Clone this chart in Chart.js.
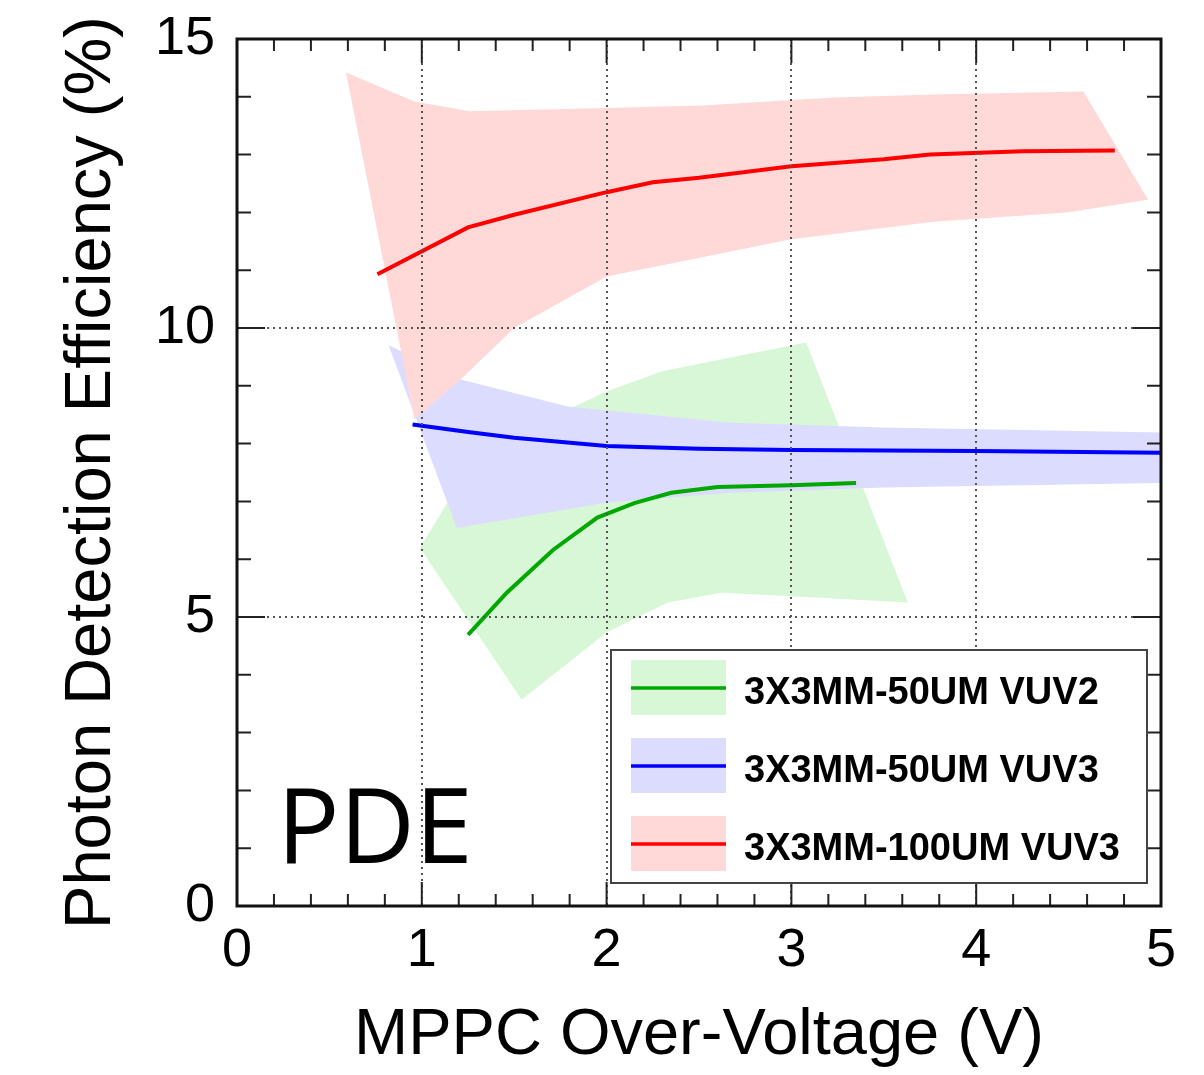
<!DOCTYPE html>
<html>
<head>
<meta charset="utf-8">
<title>PDE</title>
<script src="https://cdn.jsdelivr.net/npm/chart.js@4.4.1/dist/chart.umd.min.js"></script>
<style>
  html, body { margin: 0; padding: 0; background: #fff; }
  #wrap { position: relative; width: 1204px; height: 1075px; }
</style>
</head>
<body>
<div id="wrap"><canvas id="myChart" width="1204" height="1075"></canvas></div>
<script>
// values: x = over-voltage (V), y = PDE (%)
const seriesNames = ['3X3MM-50UM VUV2', '3X3MM-50UM VUV3', '3X3MM-100UM VUV3'];

// 3X3MM-50UM VUV2 (green)
const vuv2V   = [1.25, 1.46, 1.71, 1.95, 2.15, 2.35, 2.6, 3.0, 3.35];
const vuv2Pde = [4.69, 5.42, 6.16, 6.72, 6.97, 7.15, 7.25, 7.28, 7.32];
const vuv2HiV   = [0.99, 1.2, 1.5, 1.79, 2.0, 2.3, 2.67, 3.08, 3.63];
const vuv2HiPde = [6.2, 7.3, 8.1, 8.59, 8.9, 9.25, 9.49, 9.75, 5.25];
const vuv2LoV   = [0.99, 1.54, 2.0, 2.33, 2.62, 3.05, 3.63];
const vuv2LoPde = [6.2, 3.57, 4.73, 5.25, 5.42, 5.35, 5.25];

// 3X3MM-50UM VUV3 (blue)
const vuv3V   = [0.95, 1.25, 1.5, 2.0, 2.5, 3.0, 3.5, 4.0, 5.0];
const vuv3Pde = [8.33, 8.2, 8.1, 7.96, 7.91, 7.89, 7.88, 7.87, 7.84];
const vuv3HiV   = [0.82, 1.21, 1.79, 2.67, 3.5, 5.0];
const vuv3HiPde = [9.7, 9.11, 8.64, 8.36, 8.28, 8.19];
const vuv3LoV   = [0.82, 1.19, 2.0, 2.67, 3.5, 5.0];
const vuv3LoPde = [9.7, 6.54, 6.98, 7.15, 7.24, 7.32];

// 3X3MM-100UM VUV3 (red)
const big3V   = [0.76, 1.25, 1.5, 2.0, 2.25, 2.5, 3.0, 3.5, 3.75, 4.25, 4.75];
const big3Pde = [10.93, 11.74, 11.96, 12.35, 12.52, 12.6, 12.8, 12.92, 13.0, 13.06, 13.07];
const big3HiV   = [0.59, 0.96, 1.26, 1.95, 2.52, 3.23, 3.77, 4.58, 4.93];
const big3HiPde = [14.42, 13.92, 13.75, 13.8, 13.85, 13.99, 14.04, 14.09, 12.22];
const big3LoV   = [0.59, 0.96, 1.21, 1.5, 2.0, 2.51, 2.99, 3.77, 4.49, 4.93];
const big3LoPde = [14.42, 8.42, 9.11, 10.0, 10.89, 11.22, 11.53, 11.84, 12.0, 12.22];

const xTicks = [0, 1, 2, 3, 4, 5];
const yTicks = [0, 5, 10, 15];

const lineColors = ['#00a800', '#0000ff', '#ff0000'];
const bandColors = ['#d7f7d7', '#dcdcff', '#ffd8d8'];

function pts(xs, ys) {
  return xs.map((v, i) => ({x: v, y: ys[i]}));
}

function band(xs, ys, color, order, fill) {
  return {
    data: pts(xs, ys), borderWidth: 0, pointRadius: 0,
    backgroundColor: color, fill: fill, order: order, tension: 0
  };
}

function line(xs, ys, color) {
  return {
    data: pts(xs, ys), borderColor: color, borderWidth: 4,
    pointRadius: 0, fill: false, order: 0, tension: 0
  };
}

const FONT = "'Liberation Sans', Arial, sans-serif";
Chart.defaults.font.family = FONT;
Chart.defaults.color = '#000';

// frame with inward ticks, PDE label and legend box
const decoPlugin = {
  id: 'deco',
  afterDraw(chart) {
    const {ctx, chartArea: a, scales: {x, y}} = chart;
    ctx.save();
    ctx.strokeStyle = '#222';
    ctx.lineWidth = 2;
    ctx.beginPath();
    for (let i = 0; i <= 25; i++) {
      const px = x.getPixelForValue(i / 5);
      const len = i % 5 === 0 ? 24 : 12;
      ctx.moveTo(px, a.bottom); ctx.lineTo(px, a.bottom - len);
      ctx.moveTo(px, a.top); ctx.lineTo(px, a.top + len);
    }
    for (let i = 0; i <= 15; i++) {
      const py = y.getPixelForValue(i);
      const len = i % 5 === 0 ? 28 : 14;
      ctx.moveTo(a.left, py); ctx.lineTo(a.left + len, py);
      ctx.moveTo(a.right, py); ctx.lineTo(a.right - len, py);
    }
    ctx.stroke();
    ctx.lineWidth = 3;
    ctx.strokeStyle = '#111';
    ctx.strokeRect(a.left, a.top, a.right - a.left, a.bottom - a.top);

    // PDE label
    ctx.fillStyle = '#000';
    ctx.font = "104px 'Open Sans', 'Noto Sans', sans-serif";
    ctx.textBaseline = 'alphabetic';
    ctx.textAlign = 'left';
    ctx.fillText('PDE', 277, 863);

    // legend
    const bx = 611, by = 650, bw = 536, bh = 233;
    ctx.fillStyle = '#fff';
    ctx.fillRect(bx, by, bw, bh);
    ctx.lineWidth = 2;
    ctx.strokeStyle = '#444';
    ctx.strokeRect(bx, by, bw, bh);
    ctx.font = 'bold 38px ' + FONT;
    for (let i = 0; i < seriesNames.length; i++) {
      const cy = 688 + i * 78;
      ctx.fillStyle = bandColors[i];
      ctx.fillRect(631, cy - 28, 95, 55);
      ctx.strokeStyle = lineColors[i];
      ctx.lineWidth = 3.5;
      ctx.beginPath();
      ctx.moveTo(631, cy); ctx.lineTo(726, cy);
      ctx.stroke();
      ctx.fillStyle = '#000';
      ctx.fillText(seriesNames[i], 744, cy + 16);
    }
    ctx.restore();
  }
};

const gridColor = (ctx, ends) => ends.includes(ctx.tick.value) ? 'rgba(0,0,0,0)' : '#555';

const ctx = document.getElementById('myChart');
const chart = new Chart(ctx, {
  type: 'line',
  data: {
    datasets: [
      line(vuv2V, vuv2Pde, lineColors[0]),
      line(vuv3V, vuv3Pde, lineColors[1]),
      line(big3V, big3Pde, lineColors[2]),
      band(big3HiV, big3HiPde, bandColors[2], 1, '+1'),
      band(big3LoV, big3LoPde, bandColors[2], 1, false),
      band(vuv3HiV, vuv3HiPde, bandColors[1], 2, '+1'),
      band(vuv3LoV, vuv3LoPde, bandColors[1], 2, false),
      band(vuv2HiV, vuv2HiPde, bandColors[0], 3, '+1'),
      band(vuv2LoV, vuv2LoPde, bandColors[0], 3, false)
    ]
  },
  options: {
    responsive: false,
    animation: false,
    devicePixelRatio: 1,
    layout: {padding: {top: 39, right: 43, bottom: 0, left: 0}},
    plugins: {legend: {display: false}, tooltip: {enabled: false}},
    scales: {
      x: {
        type: 'linear', min: 0, max: 5,
        afterFit: s => { s.height = 169; s.paddingLeft = 0; s.paddingRight = 0; },
        afterBuildTicks: s => { s.ticks = xTicks.map(v => ({value: v})); },
        ticks: {font: {size: 54}, padding: 13, color: '#000'},
        grid: {color: c => gridColor(c, [0, 5]), lineWidth: 2, drawTicks: false, z: 1},
        border: {display: false, dash: [2, 4]},
        title: {display: true, text: 'MPPC Over-Voltage (V)', font: {size: 65}, color: '#000', padding: {top: 0, bottom: 0}}
      },
      y: {
        type: 'linear', min: 0, max: 15,
        afterFit: s => { s.width = 237; s.paddingTop = 0; s.paddingBottom = 0; },
        afterBuildTicks: s => { s.ticks = yTicks.map(v => ({value: v})); },
        ticks: {font: {size: 54}, padding: 22, color: '#000'},
        grid: {color: c => gridColor(c, [0, 15]), lineWidth: 2, drawTicks: false, z: 1},
        border: {display: false, dash: [2, 4]},
        title: {display: true, text: 'Photon Detection Efficiency (%)', font: {size: 65}, color: '#000', padding: {top: 53, bottom: 0}}
      }
    }
  },
  plugins: [decoPlugin]
});
</script>
</body>
</html>
